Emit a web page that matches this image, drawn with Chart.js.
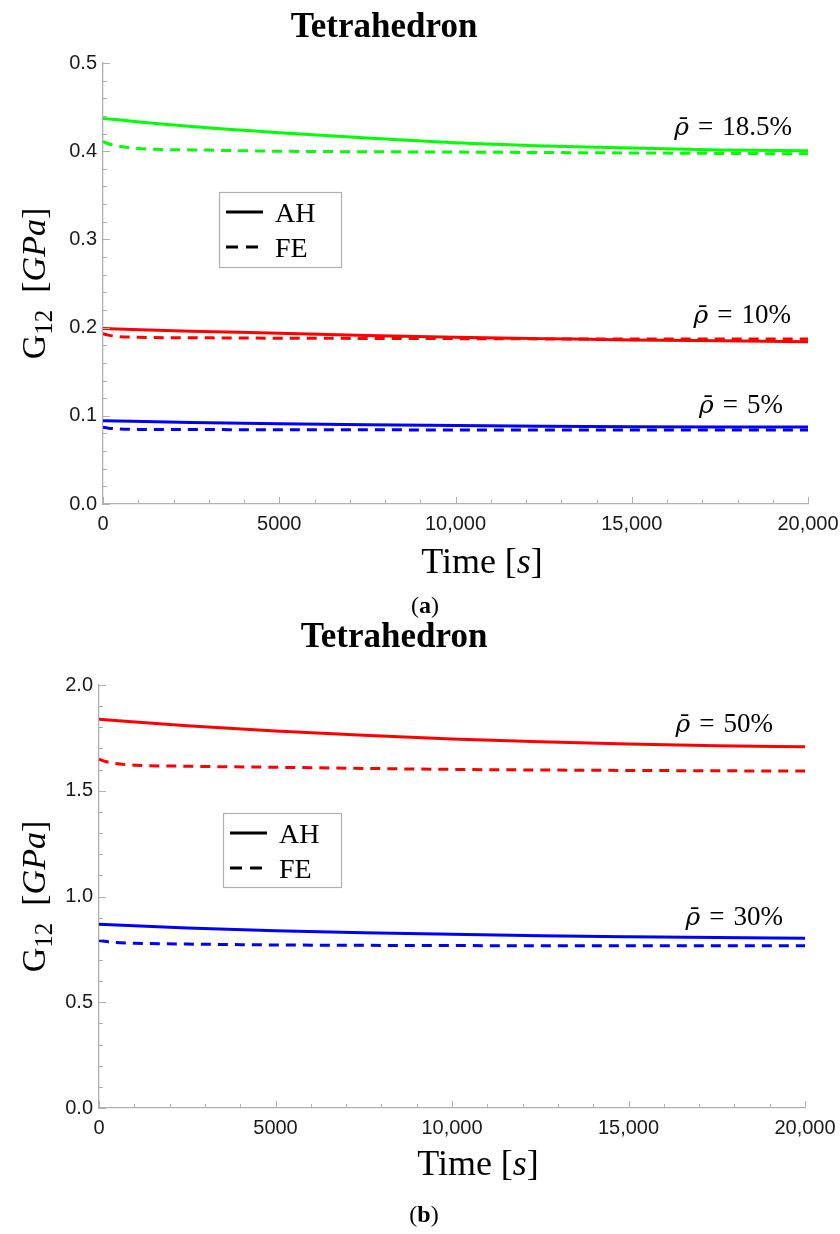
<!DOCTYPE html>
<html>
<head>
<meta charset="utf-8">
<script src="https://cdn.jsdelivr.net/npm/chart.js@4.4.1/dist/chart.umd.min.js"></script>
<style>
    html, body { margin: 0; padding: 0; background: #ffffff; overflow: hidden; }
    canvas { position: absolute; left: 0; }
    #panel-a { top: 0; }
    #panel-b { top: 620px; }
</style>
</head>
<body>
<canvas id="panel-a" width="840" height="620"></canvas>
<canvas id="panel-b" width="840" height="614"></canvas>
<script>
// Sample times (s)
const TIME_AH = [0, 2500, 5000, 7500, 10000, 12500, 15000, 17500, 20000];
const TIME_FE = [0, 150, 400, 1000, 2500, 5000, 10000, 15000, 20000];

// Panel (a): G12 [GPa]
const A_GREEN_AH = [0.437, 0.428, 0.421, 0.415, 0.4095, 0.406, 0.4035, 0.4015, 0.4005];
const A_GREEN_FE = [0.411, 0.4085, 0.406, 0.403, 0.4015, 0.400, 0.399, 0.398, 0.397];
const A_RED_AH = [0.199, 0.196, 0.1935, 0.191, 0.189, 0.1875, 0.186, 0.185, 0.184];
const A_RED_FE = [0.193, 0.1915, 0.190, 0.189, 0.1885, 0.188, 0.1875, 0.187, 0.187];
const A_BLUE_AH = [0.0945, 0.0925, 0.091, 0.0898, 0.0889, 0.0882, 0.0877, 0.0874, 0.0872];
const A_BLUE_FE = [0.087, 0.086, 0.0852, 0.0846, 0.0844, 0.0842, 0.084, 0.0839, 0.0838];

// Panel (b): G12 [GPa]
const B_RED_AH = [1.838, 1.807, 1.782, 1.762, 1.745, 1.732, 1.721, 1.713, 1.708];
const B_RED_FE = [1.649, 1.640, 1.630, 1.621, 1.616, 1.611, 1.601, 1.596, 1.593];
const B_BLUE_AH = [0.869, 0.851, 0.838, 0.829, 0.822, 0.815, 0.810, 0.806, 0.803];
const B_BLUE_FE = [0.792, 0.788, 0.783, 0.779, 0.775, 0.771, 0.768, 0.767, 0.767];

// Tick values and labels
const X_TICKS = [0, 5000, 10000, 15000, 20000];
const A_Y_TICKS = [0, 0.1, 0.2, 0.3, 0.4, 0.5];
const B_Y_TICKS = [0, 0.5, 1.0, 1.5, 2.0];
const SERIES_NAMES = ['AH', 'FE'];
const A_DENSITIES = ['18.5%', '10%', '5%'];
const B_DENSITIES = ['50%', '30%'];

const SERIF = '"Liberation Serif", "Times New Roman", serif';
const SANS = '"Liberation Sans", Arial, sans-serif';
const AXIS_GRAY = '#b0b0b0';

function series(times, values) {
    return times.map((t, i) => ({ x: t, y: values[i] }));
}

function makeDatasets(groups) {
    const sets = [];
    groups.forEach(g => {
        sets.push({ label: SERIES_NAMES[0], data: series(TIME_AH, g.ah), borderColor: g.color, borderWidth: 3 });
        sets.push({ label: SERIES_NAMES[1], data: series(TIME_FE, g.fe), borderColor: g.color, borderWidth: 3, borderDash: [10, 7] });
    });
    return sets;
}

// Draw a row of text runs with different fonts
function drawRuns(ctx, runs, x, y, align) {
    let total = 0;
    runs.forEach(r => {
        ctx.font = r.font;
        r.w = ctx.measureText(r.text).width;
        total += r.w;
    });
    let cx = align === 'center' ? x - total / 2 : (align === 'right' ? x - total : x);
    ctx.textAlign = 'left';
    ctx.textBaseline = 'alphabetic';
    runs.forEach(r => {
        ctx.font = r.font;
        ctx.fillText(r.text, cx, y + (r.dy || 0));
        cx += r.w;
    });
}

function formatTime(v) {
    return v >= 10000 ? v.toLocaleString('en-US') : String(v);
}

// Inward ticks, titles, legend and density labels
const panelDecor = {
    id: 'panelDecor',
    afterDraw(chart, args, o) {
        const ctx = chart.ctx;
        const area = chart.chartArea;
        const xs = chart.scales.x;
        const ys = chart.scales.y;
        ctx.save();

        // minor / major ticks pointing into the plot
        ctx.strokeStyle = AXIS_GRAY;
        ctx.lineWidth = 1;
        const nx = Math.round((xs.max - xs.min) / o.xMinor);
        const xEvery = Math.round(o.xMajor / o.xMinor);
        for (let i = 0; i <= nx; i++) {
            const px = Math.round(xs.getPixelForValue(xs.min + i * o.xMinor)) + 0.5;
            const len = i % xEvery === 0 ? 7 : 4;
            ctx.beginPath();
            ctx.moveTo(px, area.bottom);
            ctx.lineTo(px, area.bottom - len);
            ctx.stroke();
        }
        const ny = Math.round((ys.max - ys.min) / o.yMinor);
        const yEvery = Math.round(o.yMajor / o.yMinor);
        for (let i = 0; i <= ny; i++) {
            const py = Math.round(ys.getPixelForValue(ys.min + i * o.yMinor)) + 0.5;
            const len = i % yEvery === 0 ? 7 : 4;
            ctx.beginPath();
            ctx.moveTo(area.left, py);
            ctx.lineTo(area.left + len, py);
            ctx.stroke();
        }

        ctx.fillStyle = '#000000';

        // title
        drawRuns(ctx, [{ text: 'Tetrahedron', font: 'bold 35px ' + SERIF }], o.titleX, o.titleY, 'center');

        // y axis title, rotated
        ctx.save();
        ctx.translate(o.yTitleX, (area.top + area.bottom) / 2);
        ctx.rotate(-Math.PI / 2);
        drawRuns(ctx, [
            { text: 'G', font: '34px ' + SERIF },
            { text: '12', font: '25px ' + SERIF, dy: 7 },
            { text: '  [', font: '34px ' + SERIF },
            { text: 'GPa', font: 'italic 34px ' + SERIF },
            { text: ']', font: '34px ' + SERIF }
        ], 0, 11, 'center');
        ctx.restore();

        // x axis title
        drawRuns(ctx, [
            { text: 'Time [', font: '36px ' + SERIF },
            { text: 's', font: 'italic 36px ' + SERIF },
            { text: ']', font: '36px ' + SERIF }
        ], o.xTitleX, o.xTitleY, 'center');

        // panel caption
        drawRuns(ctx, [
            { text: '(', font: '24px ' + SERIF },
            { text: o.caption, font: 'bold 24px ' + SERIF },
            { text: ')', font: '24px ' + SERIF }
        ], o.captionX, o.captionY, 'center');

        // density labels next to each pair of curves
        o.densities.forEach((d, i) => {
            const y = ys.getPixelForValue(o.densityY[i]);
            drawRuns(ctx, [
                { text: 'ρ\u0304', font: 'italic 25px "DejaVu Serif"' },
                { text: '\u2004=\u2004' + d, font: '27px ' + SERIF }
            ], area.right - o.densityRight[i], y, 'right');
        });

        // legend box
        const b = o.legendBox;
        ctx.fillStyle = '#ffffff';
        ctx.fillRect(b.x, b.y, b.w, b.h);
        ctx.strokeStyle = AXIS_GRAY;
        ctx.lineWidth = 1.2;
        ctx.strokeRect(b.x + 0.5, b.y + 0.5, b.w, b.h);
        ctx.strokeStyle = '#000000';
        ctx.lineWidth = 3;
        SERIES_NAMES.forEach((name, i) => {
            const ly = b.y + 20 + i * 35;
            ctx.setLineDash(i === 0 ? [] : [12, 8]);
            ctx.beginPath();
            ctx.moveTo(b.x + 7, ly);
            ctx.lineTo(b.x + 44, ly);
            ctx.stroke();
            ctx.setLineDash([]);
            ctx.fillStyle = '#000000';
            drawRuns(ctx, [{ text: name, font: '28px ' + SERIF }], b.x + 56, ly + 10, 'left');
        });

        ctx.restore();
    }
};

function buildPanel(id, cfg) {
    return new Chart(document.getElementById(id), {
        type: 'line',
        data: { datasets: cfg.datasets },
        plugins: [panelDecor],
        options: {
            responsive: false,
            animation: false,
            devicePixelRatio: 1,
            layout: { padding: cfg.padding },
            elements: {
                point: { radius: 0 },
                line: { cubicInterpolationMode: 'monotone', borderCapStyle: 'butt' }
            },
            plugins: {
                legend: { display: false },
                tooltip: { enabled: false },
                panelDecor: cfg.decor
            },
            scales: {
                x: {
                    type: 'linear',
                    min: 0,
                    max: 20000,
                    afterBuildTicks: s => { s.ticks = X_TICKS.map(v => ({ value: v })); },
                    afterFit: s => { s.height = 40; s.paddingLeft = 0; s.paddingRight = 0; },
                    grid: { drawOnChartArea: false, drawTicks: false },
                    border: { display: true, color: AXIS_GRAY, width: 1.3 },
                    ticks: {
                        padding: 8,
                        maxRotation: 0,
                        autoSkip: false,
                        color: '#1a1a1a',
                        font: { family: SANS, size: 20 },
                        callback: v => formatTime(v)
                    }
                },
                y: {
                    type: 'linear',
                    min: cfg.yTicks[0],
                    max: cfg.yTicks[cfg.yTicks.length - 1],
                    afterBuildTicks: s => { s.ticks = cfg.yTicks.map(v => ({ value: v })); },
                    afterFit: s => { s.width = cfg.yWidth; s.paddingTop = 0; s.paddingBottom = 0; },
                    grid: { drawOnChartArea: false, drawTicks: false },
                    border: { display: true, color: AXIS_GRAY, width: 1.3 },
                    ticks: {
                        padding: 6,
                        autoSkip: false,
                        color: '#1a1a1a',
                        font: { family: SANS, size: 20 },
                        callback: v => Number(v).toFixed(1)
                    }
                }
            }
        }
    });
}

buildPanel('panel-a', {
    datasets: makeDatasets([
        { color: '#00ff00', ah: A_GREEN_AH, fe: A_GREEN_FE },
        { color: '#ff0000', ah: A_RED_AH, fe: A_RED_FE },
        { color: '#0000ff', ah: A_BLUE_AH, fe: A_BLUE_FE }
    ]),
    yTicks: A_Y_TICKS,
    yWidth: 103,
    padding: { left: 0, right: 32, top: 63, bottom: 76 },
    decor: {
        xMinor: 1000, xMajor: 5000, yMinor: 0.02, yMajor: 0.1,
        titleX: 384, titleY: 37,
        yTitleX: 34,
        xTitleX: 482, xTitleY: 573,
        caption: 'a', captionX: 425, captionY: 613,
        densities: A_DENSITIES,
        densityY: [0.4184, 0.2049, 0.1035],
        densityRight: [16, 17, 25],
        legendBox: { x: 219, y: 192, w: 122, h: 75 }
    }
});

buildPanel('panel-b', {
    datasets: makeDatasets([
        { color: '#ff0000', ah: B_RED_AH, fe: B_RED_FE },
        { color: '#0000ff', ah: B_BLUE_AH, fe: B_BLUE_FE }
    ]),
    yTicks: B_Y_TICKS,
    yWidth: 99,
    padding: { left: 0, right: 35, top: 65, bottom: 86 },
    decor: {
        xMinor: 1000, xMajor: 5000, yMinor: 0.1, yMajor: 0.5,
        titleX: 394, titleY: 27,
        yTitleX: 34,
        xTitleX: 478, xTitleY: 555,
        caption: 'b', captionX: 424, captionY: 602,
        densities: B_DENSITIES,
        densityY: [1.779, 0.866],
        densityRight: [32, 22],
        legendBox: { x: 223, y: 193, w: 118, h: 74 }
    }
});
</script>
</body>
</html>
